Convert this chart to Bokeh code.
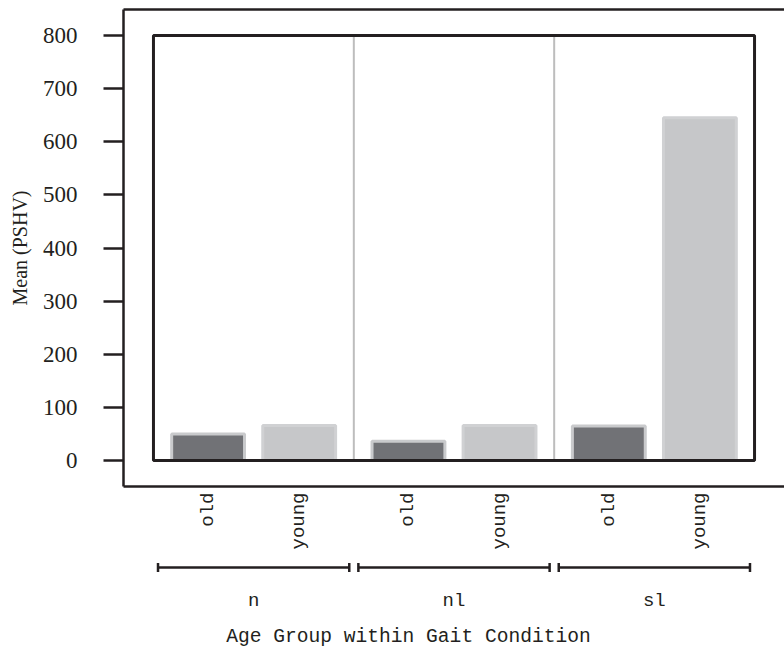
from math import pi

from bokeh.core.properties import value
from bokeh.embed import file_html
from bokeh.layouts import column
from bokeh.models import (CategoricalAxis, ColumnDataSource, FactorRange, FixedTicker,
                          Range1d, TeeHead, Whisker)
from bokeh.plotting import figure
from bokeh.resources import INLINE

# ---- data -------------------------------------------------------------
groups = ["n", "nl", "sl"]
ages = ["old", "young"]
old_means = [50, 36, 65]
young_means = [66, 66, 645]
y_ticks = [0, 100, 200, 300, 400, 500, 600, 700, 800]
x_title = "Age Group within Gait Condition"
y_title = "Mean (PSHV)"

# ---- styling ----------------------------------------------------------
INK = "#231f20"
FILL = {"old": "#717276", "young": "#c6c7c9"}
EDGE = {"old": "#c9cacc", "young": "#d0d1d3"}
SEP = "#bdbdbd"
GROUP_PAD = 0.2
MONO = "Liberation Mono"
SERIF = "Liberation Serif"
W = 784

factors = [(g, a) for g in groups for a in ages]
means = [v for pair in zip(old_means, young_means) for v in pair]
fills = [FILL[a] for g in groups for a in ages]
edges = [EDGE[a] for g in groups for a in ages]

xr = FactorRange(factors=factors, group_padding=GROUP_PAD, factor_padding=0.0,
                 range_padding=0.429, range_padding_units="absolute")

# ---- main chart -------------------------------------------------------
A = figure(width=W, height=561, x_range=xr,
           y_range=Range1d(y_ticks[0] - 49, y_ticks[-1] + 49),
           output_backend="svg", toolbar_location=None,
           min_border_left=123, min_border_right=0, min_border_top=9,
           min_border_bottom=75)
A.outline_line_color = None
A.grid.visible = False
A.background_fill_color = "white"
A.border_fill_color = "white"

ya = A.yaxis[0]
ya.ticker = FixedTicker(ticks=y_ticks)
ya.major_tick_out = 20
ya.major_tick_in = 0
ya.minor_tick_out = 0
ya.minor_tick_in = 0
ya.major_tick_line_width = 2.5
ya.major_tick_line_color = INK
ya.axis_line_width = 2.5
ya.axis_line_color = INK
ya.major_label_standoff = 26
ya.major_label_text_font = SERIF
ya.major_label_text_font_size = "23px"
ya.major_label_text_color = INK
ya.axis_label = y_title
ya.axis_label_text_font = SERIF
ya.axis_label_text_font_size = "20px"
ya.axis_label_text_font_style = "normal"
ya.axis_label_text_color = INK
ya.axis_label_standoff = 9

xa = A.xaxis[0]
xa.major_label_orientation = pi / 2
xa.major_label_text_font = MONO
xa.major_label_text_font_size = "19px"
xa.major_label_text_color = INK
xa.major_label_standoff = 6
xa.major_tick_out = 0
xa.major_tick_in = 0
xa.major_tick_line_color = None
xa.group_text_font_size = "0px"
xa.group_text_color = None
xa.separator_line_color = None
xa.axis_line_width = 2.5
xa.axis_line_color = INK

top = CategoricalAxis(major_label_text_font_size="0px", major_label_text_color=None,
                      group_text_font_size="0px", group_text_color=None,
                      major_tick_out=0, major_tick_in=0, major_tick_line_color=None,
                      major_label_standoff=0, separator_line_color=None,
                      axis_line_width=2.5, axis_line_color=INK)
A.add_layout(top, "above")

half = 0.5 + GROUP_PAD / 2
seps = [(g, ages[-1], half) for g in groups[:-1]]
sep_src = ColumnDataSource(dict(x=seps))
A.segment(x0="x", y0=y_ticks[0], x1="x", y1=y_ticks[-1], source=sep_src,
          line_color=SEP, line_width=2)

bar_src = ColumnDataSource(dict(x=factors, top=means, fill=fills, edge=edges))
A.vbar(x="x", top="top", bottom=0, width=0.8, source=bar_src,
       fill_color="fill", line_color="edge", line_width=3)

box_src = ColumnDataSource(dict(left=[(groups[0], ages[0], -half)],
                                right=[(groups[-1], ages[-1], half)],
                                bottom=[y_ticks[0]], top=[y_ticks[-1]]))
A.quad(left="left", right="right", bottom="bottom", top="top", source=box_src,
       fill_color=None, line_color=INK, line_width=3)

# ---- group brackets, group labels and x title --------------------------
B = figure(width=W, height=86, x_range=xr, y_range=Range1d(86, 0),
           output_backend="svg", toolbar_location=None,
           min_border_left=123, min_border_right=0, min_border_top=0,
           min_border_bottom=0, x_axis_location=None, y_axis_location=None)
B.outline_line_color = None
B.grid.visible = False
B.xgrid.grid_line_color = None
B.ygrid.grid_line_color = None
B.background_fill_color = "white"
B.border_fill_color = "white"

br_src = ColumnDataSource(dict(lower=[(g, ages[0], -0.55) for g in groups],
                               upper=[(g, ages[-1], 0.55) for g in groups]))
B.add_layout(Whisker(source=br_src, lower="lower", upper="upper", base=6,
                     dimension="width", line_color=INK, line_width=2.5,
                     lower_head=TeeHead(size=9, line_color=INK, line_width=2.5),
                     upper_head=TeeHead(size=9, line_color=INK, line_width=2.5)))

B.text(x=groups, y=39, text=groups, text_font=value(MONO), text_font_size="19px",
       text_align="center", text_baseline="alphabetic", text_color=INK)

B.text(x=[(groups[1], ages[0])], y=75.7, text=[x_title], text_font=value(MONO),
       text_font_size="19.6px", text_align="center", text_baseline="alphabetic",
       text_color=INK)

layout = column(A, B)
open("out.html", "w").write(file_html(layout, INLINE))
